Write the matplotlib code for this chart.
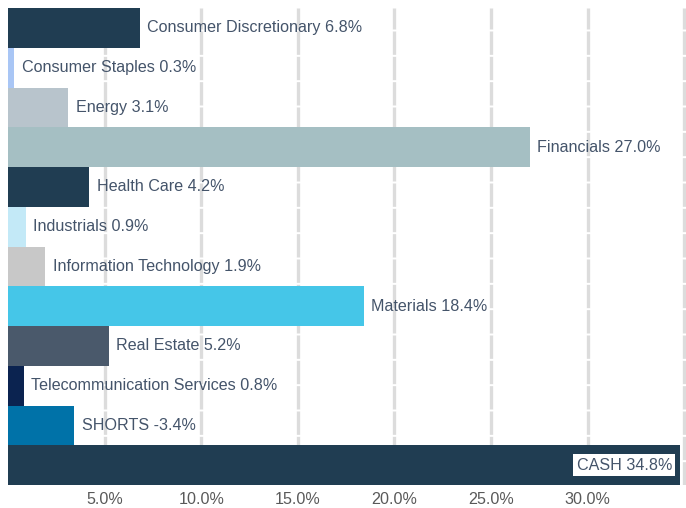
import numpy as np
import matplotlib.pyplot as plt

plt.rcParams['font.family'] = ['Liberation Sans', 'DejaVu Sans']

# sector weights, top to bottom
sectors = ['Consumer Discretionary', 'Consumer Staples', 'Energy', 'Financials',
           'Health Care', 'Industrials', 'Information Technology', 'Materials',
           'Real Estate', 'Telecommunication Services', 'SHORTS', 'CASH']
weights = [6.8, 0.3, 3.1, 27.0, 4.2, 0.9, 1.9, 18.4, 5.2, 0.8, -3.4, 34.8]
colors = ['#203d52', '#a9c6f5', '#b8c4cc', '#a5bfc3', '#203d52', '#c3e9f7',
          '#c8c8c8', '#45c6e8', '#4a596b', '#0b2350', '#0072a8', '#203d52']
xticks = [5, 10, 15, 20, 25, 30, 35]

txt = '#44546a'
fs = 11.6

fig = plt.figure(figsize=(6.86, 5.08), dpi=100)
ax = fig.add_axes([8.4/686, 23/508, 1 - 8.4/686, 477/508])

y = np.arange(len(sectors))
lengths = np.abs(weights)
ax.barh(y, lengths, height=1.0, color=colors, zorder=2)

# gridlines
for xv in xticks:
    ax.axvline(xv, color='#dcdcdc', lw=2.4, ls=(0, (7, 0.6)), zorder=1)

for i, (s, w, L) in enumerate(zip(sectors, weights, lengths)):
    lab = '%s %.1f%%' % (s, w)
    if s == 'CASH':
        ax.annotate(lab, (L, i), xytext=(-6, 0), textcoords='offset points',
                    ha='right', va='center', fontsize=fs, color=txt, zorder=3,
                    bbox=dict(boxstyle='square,pad=0.2', fc='white', ec='none'))
    else:
        ax.annotate(lab, (L, i), xytext=(5.5, 0), textcoords='offset points',
                    ha='left', va='center', fontsize=fs, color=txt, zorder=3)

ax.set_xlim(0, 35.1)
ax.set_ylim(len(sectors) - 0.5, -0.5)
ax.set_xticks(xticks[:-1])
ax.set_xticklabels(['%.1f%%' % v for v in xticks[:-1]], fontsize=fs, color='#595959')
ax.set_yticks([])
ax.tick_params(axis='x', length=0, pad=5)
for sp in ax.spines.values():
    sp.set_visible(False)

fig.savefig('out.png', dpi=100)
